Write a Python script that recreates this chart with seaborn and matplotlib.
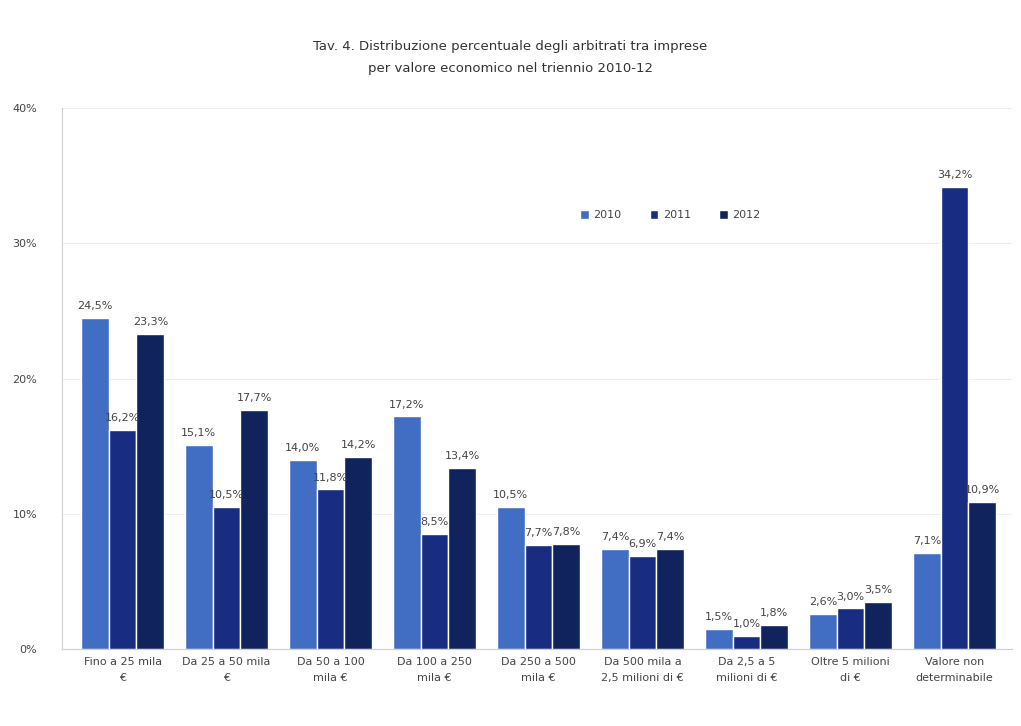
import pandas as pd
import numpy as np
import seaborn as sns
import matplotlib.pyplot as plt
from matplotlib.ticker import FuncFormatter

sns.set_theme(style="white")
plt.rcParams['font.family'] = ['DejaVu Sans']

# --- Data ---
categorie = ["Fino a 25 mila\n€", "Da 25 a 50 mila\n€", "Da 50 a 100\nmila €",
             "Da 100 a 250\nmila €", "Da 250 a 500\nmila €", "Da 500 mila a\n2,5 milioni di €",
             "Da 2,5 a 5\nmilioni di €", "Oltre 5 milioni\ndi €", "Valore non\ndeterminabile"]
anni = ["2010", "2011", "2012"]
val_2010 = [24.5, 15.1, 14.0, 17.2, 10.5, 7.4, 1.5, 2.6, 7.1]
val_2011 = [16.2, 10.5, 11.8, 8.5, 7.7, 6.9, 1.0, 3.0, 34.2]
val_2012 = [23.3, 17.7, 14.2, 13.4, 7.8, 7.4, 1.8, 3.5, 10.9]
colori = ["#416ec2", "#182d82", "#11235c"]

df = pd.DataFrame({
    "categoria": categorie * 3,
    "anno": np.repeat(anni, len(categorie)),
    "valore": val_2010 + val_2011 + val_2012,
})

fig = plt.figure(figsize=(10.21, 7.26), dpi=100)
ax = fig.add_axes([0.061, 0.106, 0.93, 0.745])

sns.barplot(data=df, x="categoria", y="valore", hue="anno", order=categorie,
            hue_order=anni, palette=colori, saturation=1, width=0.8,
            edgecolor="white", linewidth=1, ax=ax, errorbar=None)

# etichette valori
for cont in ax.containers:
    labels = [f"{v:.1f}%".replace(".", ",") for v in cont.datavalues]
    ax.bar_label(cont, labels=labels, padding=5, fontsize=8, color="#444444")

ax.set_ylim(0, 40)
ax.set_yticks([0, 10, 20, 30, 40])
ax.yaxis.set_major_formatter(FuncFormatter(lambda v, p: f"{v:.0f}%"))
ax.set_xlim(-0.58, len(categorie) - 0.45)
ax.set_xlabel("")
ax.set_ylabel("")
ax.tick_params(axis="both", labelsize=8, colors="#444444", length=0)
ax.tick_params(axis="y", pad=18)
ax.tick_params(axis="x", pad=6)
for t in ax.get_xticklabels():
    t.set_linespacing(1.7)
ax.grid(axis="y", color="#eeeeee", linewidth=0.8)
ax.set_axisbelow(True)
for s in ["top", "right"]:
    ax.spines[s].set_visible(False)
for s in ["left", "bottom"]:
    ax.spines[s].set_color("#d0d0d0")
    ax.spines[s].set_linewidth(0.8)

ax.legend(loc="upper left", bbox_to_anchor=(0.535, 0.83), ncol=3, frameon=False,
          fontsize=8, handlelength=0.8, handleheight=0.8, columnspacing=2.5,
          handletextpad=0.4, labelcolor="#444444")

fig.text(0.5, 0.921, "Tav. 4. Distribuzione percentuale degli arbitrati tra imprese\n"
         "per valore economico nel triennio 2010-12", ha="center", va="center",
         fontsize=9.5, color="#333333", linespacing=1.9)

fig.savefig("out.png", dpi=100)
